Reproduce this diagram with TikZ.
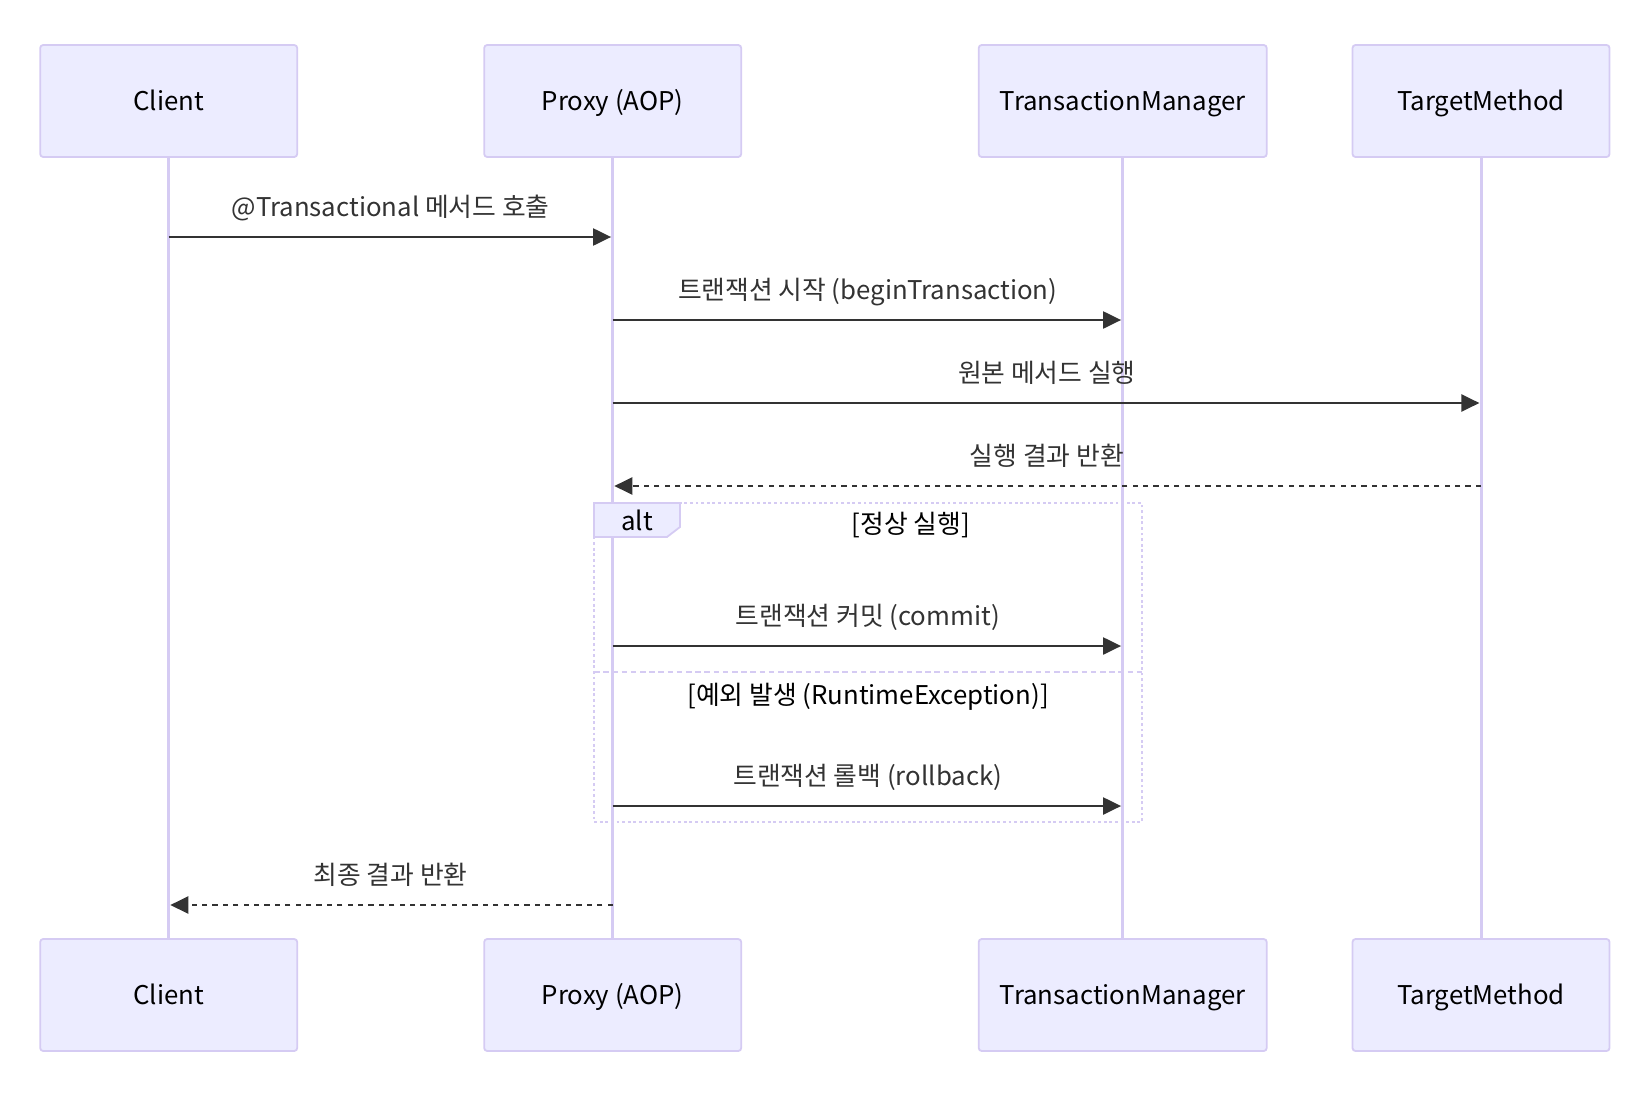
\documentclass[tikz,border=0pt]{standalone}
\usepackage{fontspec}
\setmainfont{Noto Sans CJK KR}
\usetikzlibrary{arrows.meta}
\definecolor{actorfill}{HTML}{ECECFF}
\definecolor{actorline}{HTML}{D5CBF3}
\definecolor{signal}{HTML}{333333}

\begin{document}
\begin{tikzpicture}[x=0.5pt, y=-0.5pt,
    actor/.style={draw=actorline, fill=actorfill, line width=0.9pt, rounded corners=1.5pt,
        minimum height=56pt, minimum width=128.5pt, inner sep=0pt, text height=1em, text depth=0.09em,
        font=\fontsize{12.9}{16}\selectfont},
    lifeline/.style={draw=actorline, line width=1.5pt},
    msg/.style={draw=signal, line width=1.1pt, shorten >=0.8pt, -{Triangle[length=9pt, width=8.5pt]}},
    reply/.style={msg, dash pattern=on 2.6pt off 2.6pt},
    msglabel/.style={font=\fontsize{12.9}{16}\selectfont, text=signal, yshift=12.7pt,
        text height=0.75em, text depth=0.22em},
    altline/.style={draw=actorline, line width=1.3pt, dash pattern=on 1.4pt off 1.4pt},
    altsep/.style={draw=actorline, line width=1.3pt, dash pattern=on 2.8pt off 1.8pt},
    alttext/.style={font=\fontsize{12.9}{16}\selectfont, text=black, text height=1em, text depth=0.09em}]
    \useasboundingbox (0,0) rectangle (1642,1092);

    % actors, top and bottom
    \node[actor] (clientTop) at (168.7,101) {Client};
    \node[actor] (proxyTop) at (612.7,101) {Proxy (AOP)};
    \node[actor, minimum width=144pt] (tmTop) at (1122.7,101) {TransactionManager};
    \node[actor] (targetTop) at (1481,101) {TargetMethod};
    \node[actor] (clientBot) at (168.7,995) {Client};
    \node[actor] (proxyBot) at (612.7,995) {Proxy (AOP)};
    \node[actor, minimum width=144pt] (tmBot) at (1122.7,995) {TransactionManager};
    \node[actor] (targetBot) at (1481,995) {TargetMethod};

    % lifelines
    \draw[lifeline] (clientTop.south) -- (clientBot.north);
    \draw[lifeline] (proxyTop.south) -- (proxyBot.north);
    \draw[lifeline] (tmTop.south) -- (tmBot.north);
    \draw[lifeline] (targetTop.south) -- (targetBot.north);

    % message rows
    \coordinate (y1) at (0,237);
    \coordinate (y2) at (0,320);
    \coordinate (y3) at (0,403);
    \coordinate (y4) at (0,486);
    \coordinate (y5) at (0,646);
    \coordinate (y6) at (0,806);
    \coordinate (y7) at (0,905);

    % alt frame
    \draw[altline] (594,503) rectangle (1142,822);
    \draw[altsep] (594,672) -- (1142,672);
    \filldraw[draw=actorline, fill=actorfill, line width=0.9pt]
        (594,503) -- (680,503) -- (680,527) -- (667,537) -- (594,537) -- cycle;
    \node[alttext] (altTag) at (637,521) {alt};
    \node[alttext] (altOk) at (911,524) {[정상 실행]};
    \node[alttext] (altErr) at (868,695) {[예외 발생 (RuntimeException)]};

    % messages
    \draw[msg] (clientTop |- y1) -- (proxyTop |- y1)
        node[msglabel, midway] {@Transactional 메서드 호출};
    \draw[msg] (proxyTop |- y2) -- (tmTop |- y2)
        node[msglabel, midway] {트랜잭션 시작 (beginTransaction)};
    \draw[msg] (proxyTop |- y3) -- (targetTop |- y3)
        node[msglabel, midway] {원본 메서드 실행};
    \draw[reply] (targetTop |- y4) -- (proxyTop |- y4)
        node[msglabel, midway] {실행 결과 반환};
    \draw[msg] (proxyTop |- y5) -- (tmTop |- y5)
        node[msglabel, midway] {트랜잭션 커밋 (commit)};
    \draw[msg] (proxyTop |- y6) -- (tmTop |- y6)
        node[msglabel, midway] {트랜잭션 롤백 (rollback)};
    \draw[reply] (proxyTop |- y7) -- (clientTop |- y7)
        node[msglabel, midway] {최종 결과 반환};
\end{tikzpicture}
\end{document}
